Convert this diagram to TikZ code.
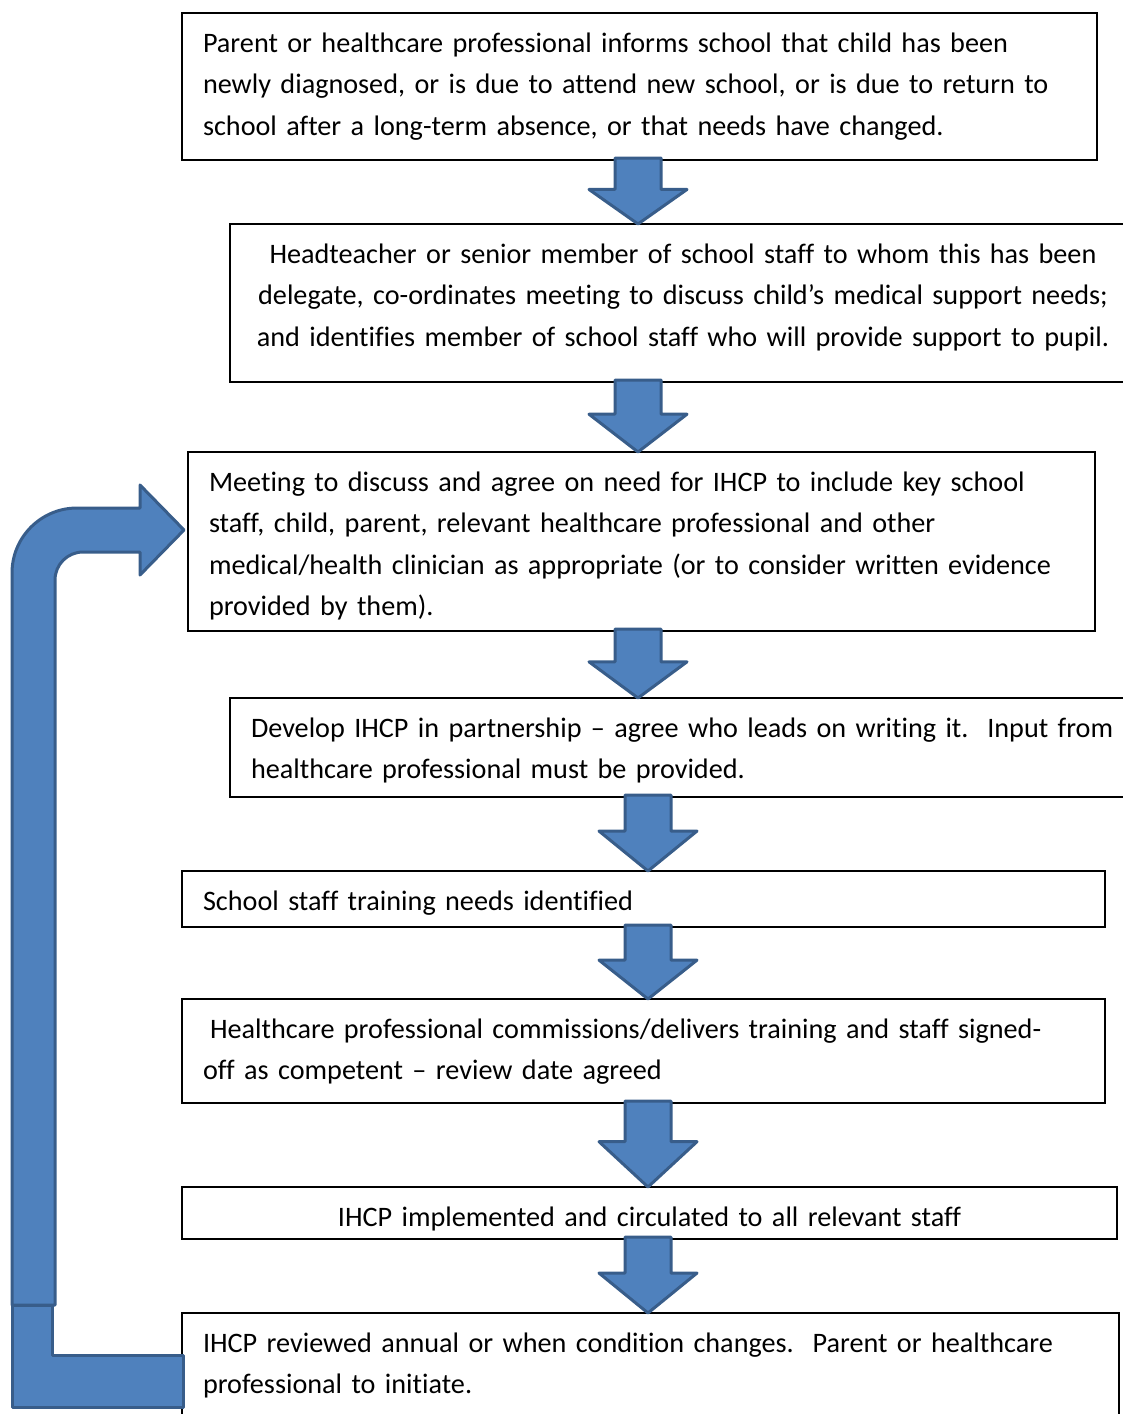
\documentclass[tikz,border=0pt]{standalone}
\usepackage{fontspec}
\setmainfont{Carlito}[Ligatures={TeX,NoCommon}]
\usetikzlibrary{calc}

\definecolor{arrowfill}{RGB}{79,129,189}
\definecolor{arrowline}{RGB}{56,93,138}

\tikzset{every picture/.style={line width=0.75pt}}
\tikzset{
  flowbox/.style={draw=black, line width=1.6pt, anchor=north west, outer sep=0pt,
    inner xsep=21pt, inner ysep=0pt, align=left, text height=39pt,
    font=\fontsize{28.2}{41.5}\selectfont},
  blockarrow/.style={draw=arrowline, fill=arrowfill, line width=3pt, line join=round}
}

% block arrow pointing down: #1 x position, #2 upper box, #3 lower box
\newcommand\flowarrow[3]{%
  \path (#1,0 |- #2.south) coordinate (at-top) (#1,0 |- #3.north) coordinate (at-tip);
  \draw [blockarrow] ($(at-top)+(-23,-2)$) -- ($(at-top)+(23,-2)$)
    -- ($(at-top)!0.46!(at-tip)+(23,0)$) -- ($(at-top)!0.46!(at-tip)+(49,0)$)
    -- (at-tip) -- ($(at-top)!0.46!(at-tip)+(-49,0)$)
    -- ($(at-top)!0.46!(at-tip)+(-23,0)$) -- cycle;}

\begin{document}
\begin{tikzpicture}[x=1pt,y=1pt,yscale=-1,xscale=1]
\useasboundingbox (0,0) rectangle (1123,1414);
\clip (0,0) rectangle (1123,1414);

% Boxes (box height = text height + text depth)
\node [flowbox, text width=873, text depth=108pt] (b1) at (182,13) {Parent or healthcare professional informs school that child has been\\newly diagnosed, or is due to attend new school, or is due to return to\\school after a long-term absence, or that needs have changed.};
\node [flowbox, inner xsep=0pt, text width=906, text depth=119pt, align=center] (b2) at (230,224) {Headteacher or senior member of school staff to whom this has been\\delegate, co-ordinates meeting to discuss child’s medical support needs;\\and identifies member of school staff who will provide support to pupil.};
\node [flowbox, text width=865, text depth=140pt] (b3) at (188,452) {Meeting to discuss and agree on need for IHCP to include key school\\staff, child, parent, relevant healthcare professional and other\\medical/health clinician as appropriate (or to consider written evidence\\provided by them).};
\node [flowbox, text width=878, text depth=60pt] (b4) at (230,698) {Develop IHCP in partnership – agree who leads on writing it.\ \ Input from\\healthcare professional must be provided.};
\node [flowbox, text width=881, text depth=17pt] (b5) at (182,871) {School staff training needs identified};
\node [flowbox, text width=881, text depth=65pt] (b6) at (182,999) {\hspace*{7pt}Healthcare professional commissions/delivers training and staff signed-\\off as competent – review date agreed};
\node [flowbox, text width=893, text depth=13pt, align=center] (b7) at (182,1187) {IHCP implemented and circulated to all relevant staff};
\node [flowbox, text width=895, text depth=71pt] (b8) at (182,1313) {IHCP reviewed annual or when condition changes.\ \ Parent or healthcare\\professional to initiate.};

% Down arrows
\flowarrow{638}{b1}{b2}
\flowarrow{638}{b2}{b3}
\flowarrow{638}{b3}{b4}
\flowarrow{648}{b4}{b5}
\flowarrow{648}{b5}{b6}
\flowarrow{648}{b6}{b7}
\flowarrow{648}{b7}{b8}

%Shape: Bent Arrow back to the meeting
\draw [blockarrow] (12,1305) -- (12,573) arc [start angle=180, end angle=270, radius=65]
  -- (140,508) -- (140,485) -- (184,530) -- (140,575) -- (140,552) -- (83,552)
  arc [start angle=270, end angle=180, radius=28] -- (55,1305) -- cycle;
%Shape: L from the review box
\draw [blockarrow] (12,1305) -- (52,1305) -- (52,1355) -- (183,1355) -- (183,1407) -- (12,1407) -- cycle;

\end{tikzpicture}
\end{document}
